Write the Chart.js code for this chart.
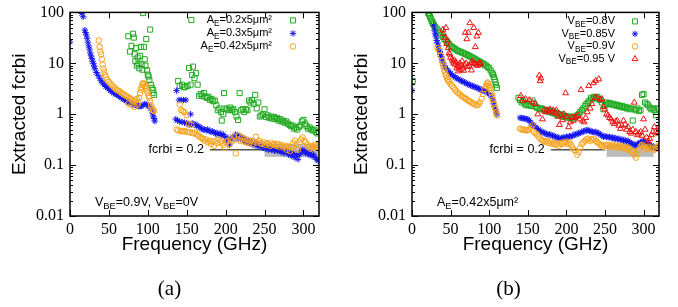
<!DOCTYPE html>
<html>
<head>
<meta charset="utf-8">
<script src="https://cdn.jsdelivr.net/npm/chart.js@4.4.1/dist/chart.umd.min.js"></script>
<style>
  body { margin: 0; background: #fff; width: 678px; height: 307px; overflow: hidden; position: relative; }
  canvas { position: absolute; top: 0; }
</style>
</head>
<body>
<canvas id="chartA" width="339" height="307" style="left:0"></canvas>
<canvas id="chartB" width="339" height="307" style="left:339px"></canvas>
<script>
// axis ticks
const xTicks = [0, 50, 100, 150, 200, 250, 300];
const yTicks = [0.01, 0.1, 1, 10, 100];
const yTickLabels = ['0.01', '0.1', '1', '10', '100'];

// legend labels (_{..} = subscript)
const legendA = ['A_{E}=0.2x5μm²', 'A_{E}=0.3x5μm²', 'A_{E}=0.42x5μm²'];
const legendB = ['V_{BE}=0.8V', 'V_{BE}=0.85V', 'V_{BE}=0.9V', 'V_{BE}=0.95 V'];

// (a) AE = 0.2x5um2
const freqA02 = [75, 77, 79, 81, 82, 83, 84, 85, 86, 87,
  88, 89, 90, 91, 92, 93, 94, 95, 96, 97,
  98, 99, 100, 101, 102, 103, 104, 105, 106, 107, 108,
  139, 141, 144, 146, 148, 151, 153, 155, 156, 157,
  158, 160, 162, 164, 166, 168, 170, 172, 174, 176,
  178, 180, 182, 184, 186, 188, 190, 192, 194, 195,
  197, 198, 200, 202, 204, 206, 208, 210, 212, 214,
  216, 218, 220, 222, 224, 226, 228, 230, 232, 234,
  236, 238, 240, 242, 244, 246, 248, 250, 252, 254,
  256, 258, 260, 262, 264, 266, 268, 270, 272, 274,
  276, 278, 280, 282, 284, 286, 288, 290, 292, 294,
  296, 298, 300, 302, 304, 306, 308, 310, 312, 314,
  316, 318, 320];
const fcrbiA02 = [34, 17, 22, 38, 32, 15, 11, 20, 9, 13,
  9.8, 8, 14, 21, 9.5, 7.5, 97, 21, 12, 9,
  30, 7.3, 6, 5.5, 4.7, 46, 3.8, 3.3, 2.6, 3.0, 2.4,
  4.5, 3.6, 3.8, 3.4, 3.4, 3.6, 8.1, 3.8, 71, 5.9,
  8.6, 5.1, 6.4, 3.8, 2.3, 2.5, 2.3, 2.6, 2.2, 2.1,
  2.2, 1.9, 2.0, 1.8, 1.85, 1.5, 1.2, 1.3, 1.1, 0.75,
  1.0, 2.6, 1.3, 1.25, 1.2, 1.35, 1.2, 1.25, 1.1, 0.9,
  0.77, 2.6, 1.2, 1.25, 1.1, 1.25, 1.2, 1.85, 1.7, 1.9,
  1.6, 2.4, 1.3, 1.7, 0.9, 0.95, 1.0, 1.25, 0.88, 0.95,
  0.85, 0.9, 0.82, 0.88, 0.8, 0.85, 0.75, 0.8, 0.72, 0.75,
  0.68, 0.72, 0.65, 0.62, 0.58, 0.6, 0.52, 0.55, 0.5, 0.56,
  0.6, 0.72, 0.77, 0.65, 0.58, 0.52, 0.55, 0.5, 0.48, 0.5,
  0.45, 0.42, 0.45];

// (a) AE = 0.3x5um2
const freqA03 = [0, 15, 17, 19, 20, 21, 22, 23, 24, 25,
  26, 27, 28, 29, 30, 31, 32, 34, 36, 38,
  40, 42, 44, 46, 48, 50, 52, 54, 56, 58,
  60, 62, 64, 66, 68, 70, 72, 74, 76, 78,
  80, 82, 84, 86, 88, 90, 92, 94, 96, 98,
  100, 102, 104, 105, 106, 107, 108, 109,
  136, 137, 138, 140, 141, 143, 144, 146, 147, 149,
  150, 152, 154, 155, 157, 159, 161, 163, 165, 167,
  169, 171, 173, 175, 177, 179, 181, 183, 185, 187,
  189, 191, 193, 195, 197, 199, 201, 203, 205, 207,
  209, 211, 213, 215, 217, 219, 221, 223, 225, 227,
  229, 231, 233, 235, 237, 239, 241, 243, 245, 247,
  249, 251, 253, 255, 257, 259, 261, 263, 265, 267,
  269, 271, 273, 275, 277, 279, 281, 283, 285, 287,
  289, 291, 293, 295, 297, 299, 301, 303, 305, 307,
  309, 311, 313, 315, 317, 319];
const fcrbiA03 = [26, 95, 82, 45, 40, 36, 31, 26, 22, 19,
  16, 14, 12.5, 11, 9.8, 8.8, 7.8, 6.6, 5.8, 5.1,
  4.5, 4.1, 3.8, 3.5, 3.3, 3.1, 2.9, 2.75, 2.6, 2.5,
  2.4, 2.3, 2.2, 2.1, 2.0, 1.92, 1.85, 1.78, 1.72, 1.66,
  1.6, 1.56, 1.52, 1.48, 1.45, 1.42, 1.45, 1.52, 1.58, 1.55,
  1.5, 1.42, 1.3, 1.2, 1.05, 0.92, 0.82, 0.73,
  0.8, 2.9, 0.75, 1.9, 0.72, 1.9, 0.7, 1.9, 0.68, 1.9,
  0.66, 0.64, 0.62, 1.0, 0.66, 0.64, 0.62, 0.6, 0.58, 0.55,
  0.52, 0.5, 0.5, 0.48, 0.5, 0.47, 0.45, 0.46, 0.44, 0.42,
  0.43, 0.4, 0.42, 0.38, 0.4, 0.36, 0.3, 0.34, 0.25, 0.32,
  0.36, 0.33, 0.4, 0.35, 0.38, 0.33, 0.35, 0.3, 0.32, 0.28,
  0.3, 0.27, 0.29, 0.25, 0.27, 0.24, 0.26, 0.23, 0.25, 0.22,
  0.24, 0.21, 0.22, 0.2, 0.22, 0.2, 0.21, 0.19, 0.2, 0.19,
  0.2, 0.18, 0.19, 0.17, 0.19, 0.18, 0.16, 0.18, 0.15, 0.17,
  0.14, 0.16, 0.13, 0.16, 0.18, 0.2, 0.19, 0.17, 0.18, 0.16,
  0.17, 0.15, 0.16, 0.14, 0.13, 0.12];

// (a) AE = 0.42x5um2
const freqA042 = [37, 38, 39, 40, 41, 42, 43, 44, 45, 46,
  48, 50, 52, 54, 56, 58, 60, 62, 64, 66,
  68, 70, 72, 74, 75, 76, 78, 79, 80, 82,
  83, 84, 86, 87, 88, 89, 90, 91, 92, 93,
  94, 95, 96, 97, 98, 99, 100, 101, 102, 103,
  104, 105, 106, 107, 108,
  137, 139, 141, 142, 143, 144, 145, 146, 147, 148,
  150, 151, 153, 154, 156, 157, 159, 161, 163, 165,
  167, 169, 171, 173, 175, 177, 179, 181, 183, 185,
  187, 189, 191, 193, 195, 197, 199, 201, 203, 205,
  207, 209, 211, 213, 215, 217, 219, 221, 223, 225,
  227, 229, 231, 233, 235, 237, 239, 241, 243, 245,
  247, 249, 251, 253, 255, 257, 259, 261, 263, 265,
  267, 269, 271, 273, 275, 277, 279, 281, 283, 285,
  287, 289, 291, 293, 295, 297, 299, 301, 303, 305,
  307, 309, 311, 313, 315, 317, 319];
const fcrbiA042 = [28, 21, 17, 15, 12, 9.5, 7.8, 6.8, 5.9, 5.3,
  4.7, 4.3, 4.0, 3.7, 3.4, 3.2, 3.0, 2.9, 2.8, 2.6,
  2.5, 2.4, 2.3, 2.2, 1.6, 2.1, 2.0, 1.5, 1.9, 1.8,
  1.4, 1.9, 2.0, 1.55, 1.7, 2.1, 2.6, 3.0, 3.4, 3.8,
  4.1, 3.9, 3.5, 3.2, 3.6, 2.9, 2.6, 2.3, 2.1, 1.8,
  1.5, 1.35, 1.25, 1.2, 1.15,
  0.5, 0.48, 1.55, 0.47, 1.2, 0.46, 1.15, 0.47, 1.1, 0.46,
  0.95, 0.45, 0.65, 0.44, 0.62, 0.43, 0.42, 0.44, 0.4, 0.38,
  0.36, 0.34, 0.33, 0.3, 0.32, 0.28, 0.3, 0.26, 0.29, 0.24,
  0.3, 0.27, 0.32, 0.28, 0.3, 0.25, 0.22, 0.28, 0.3, 0.26,
  0.33, 0.3, 0.36, 0.17, 0.32, 0.38, 0.3, 0.35, 0.29, 0.33,
  0.28, 0.31, 0.27, 0.3, 0.26, 0.29, 0.36, 0.28, 0.3, 0.27,
  0.26, 0.28, 0.25, 0.27, 0.26, 0.24, 0.27, 0.25, 0.26, 0.24,
  0.26, 0.23, 0.25, 0.24, 0.22, 0.24, 0.2, 0.23, 0.19, 0.22,
  0.27, 0.3, 0.26, 0.2, 0.28, 0.32, 0.35, 0.3, 0.28, 0.25,
  0.23, 0.21, 0.24, 0.22, 0.25, 0.23, 0.25];

// (b) VBE = 0.8V
const freqB080 = [1, 21, 22, 23, 24, 25, 26, 27, 28, 30,
  32, 34, 36, 38, 40, 42, 44, 46, 48, 50,
  52, 54, 56, 58, 60, 62, 64, 66, 68, 70,
  72, 74, 76, 78, 80, 82, 84, 86, 88, 90,
  92, 94, 96, 98, 100, 102, 104, 105, 106, 107,
  108, 109, 110,
  138, 140, 142, 144, 146, 148, 150, 152, 154, 156,
  158, 160, 162, 164, 166, 168, 170, 172, 174, 176,
  178, 180, 182, 184, 186, 188, 190, 192, 194, 196,
  198, 200, 202, 204, 206, 208, 210, 212, 214, 216,
  218, 220, 222, 224, 226, 228, 230, 232, 234, 236,
  238, 240, 242, 244, 246, 248, 250, 252, 254, 256,
  258, 260, 262, 264, 266, 268, 270, 272, 274, 276,
  278, 280, 282, 284, 286, 288, 290, 292, 294, 296,
  298, 300, 302, 304, 306, 308, 310, 312, 314, 316,
  318, 320];
const fcrbiB080 = [4.5, 98, 92, 85, 78, 72, 66, 62, 58, 52,
  48, 44, 40, 36, 33, 30, 28, 26, 24, 22,
  21, 20, 19, 18, 17.5, 17, 16.5, 16, 15.5, 15,
  14.5, 14, 13.5, 13, 12.5, 12, 11.5, 11, 10.6, 10.2,
  9.8, 9.4, 9.0, 8.5, 8.0, 7.2, 6.4, 6.0, 5.4, 4.8,
  4.3, 3.8, 3.3,
  2.1, 1.9, 1.7, 1.8, 1.6, 1.5, 1.55, 1.5, 1.45, 1.85,
  1.6, 1.4, 1.35, 1.3, 1.25, 1.3, 1.25, 1.2, 1.15, 1.2,
  1.1, 1.15, 1.05, 1.1, 1.0, 1.05, 0.95, 1.0, 0.9, 0.95,
  0.88, 0.92, 0.85, 0.9, 0.85, 0.82, 0.88, 0.9, 0.95, 1.0,
  1.1, 1.2, 1.3, 1.45, 1.6, 1.7, 1.85, 2.1, 2.0, 2.2,
  2.1, 2.2, 2.0, 1.9, 1.7, 1.25, 1.5, 1.7, 1.6, 1.65,
  1.55, 1.6, 1.5, 1.55, 1.45, 1.5, 1.4, 1.45, 1.35, 1.4,
  1.3, 1.35, 1.25, 1.3, 0.75, 1.25, 1.2, 1.3, 1.15, 1.2,
  2.4, 2.5, 1.7, 1.6, 1.5, 1.35, 1.25, 1.3, 1.2, 0.95,
  1.3, 1.25];

// (b) VBE = 0.85V
const freqB085 = [0, 28, 29, 30, 31, 32, 33, 34, 35, 36,
  37, 38, 39, 40, 42, 44, 46, 48, 50, 52,
  54, 56, 58, 60, 62, 64, 66, 68, 70, 72,
  74, 76, 78, 80, 82, 84, 86, 88, 90, 92,
  94, 96, 98, 100, 102, 104, 105, 106, 107, 108,
  109, 110,
  140, 142, 144, 146, 148, 150, 152, 154, 156, 158,
  160, 162, 164, 166, 168, 170, 172, 174, 176, 178,
  180, 182, 184, 186, 188, 190, 192, 194, 196, 198,
  200, 202, 204, 206, 208, 210, 212, 214, 216, 218,
  220, 222, 224, 226, 228, 230, 232, 234, 236, 238,
  240, 242, 244, 246, 248, 250, 252, 254, 256, 258,
  260, 262, 264, 266, 268, 270, 272, 274, 276, 278,
  280, 282, 284, 286, 288, 290, 292, 294, 296, 298,
  300, 302, 304, 306, 308, 310, 312, 314, 316, 318,
  320];
const fcrbiB085 = [2.9, 55, 45, 38, 33, 28, 25, 22, 19, 17,
  15, 13.5, 12, 10.5, 9, 8, 7.3, 6.8, 6.3, 5.9,
  5.6, 5.3, 5.1, 4.9, 4.7, 4.5, 4.4, 4.2, 4.1, 3.9,
  3.8, 3.7, 3.6, 3.5, 3.4, 3.3, 3.2, 3.1, 3.0, 2.9,
  2.85, 2.75, 2.65, 2.5, 2.3, 2.0, 1.8, 1.6, 1.4, 1.25,
  1.1, 1.0,
  0.85, 0.84, 0.83, 0.82, 0.8, 0.8, 0.75, 0.68, 0.62, 0.6,
  0.56, 0.52, 0.5, 0.47, 0.45, 0.44, 0.42, 0.41, 0.4, 0.4,
  0.39, 0.38, 0.37, 0.36, 0.35, 0.34, 0.33, 0.34, 0.35, 0.34,
  0.36, 0.35, 0.37, 0.36, 0.38, 0.39, 0.4, 0.41, 0.42, 0.43,
  0.45, 0.46, 0.47, 0.48, 0.49, 0.47, 0.46, 0.45, 0.44, 0.45,
  0.43, 0.42, 0.4, 0.38, 0.36, 0.37, 0.36, 0.35, 0.36, 0.34,
  0.35, 0.33, 0.34, 0.32, 0.33, 0.31, 0.32, 0.3, 0.31, 0.29,
  0.3, 0.28, 0.27, 0.26, 0.25, 0.24, 0.26, 0.27, 0.28, 0.29,
  0.3, 0.28, 0.27, 0.26, 0.25, 0.24, 0.23, 0.22, 0.21, 0.22,
  0.21];

// (b) VBE = 0.9V
const freqB090 = [33, 35, 37, 39, 40, 41, 42, 43, 44, 45,
  46, 47, 48, 50, 52, 54, 56, 58, 60, 62,
  64, 66, 68, 70, 72, 74, 76, 78, 80, 82,
  84, 86, 88, 90, 92, 94, 96, 97, 98, 99,
  100, 101, 102, 103, 104, 105, 106, 107, 108, 109,
  110,
  140, 142, 144, 146, 148, 150, 152, 154, 156, 158,
  160, 162, 164, 166, 168, 170, 172, 174, 176, 178,
  180, 182, 184, 186, 188, 190, 192, 194, 196, 198,
  200, 202, 204, 206, 208, 210, 212, 214, 216, 218,
  220, 222, 224, 226, 228, 230, 232, 234, 236, 238,
  240, 242, 244, 246, 248, 250, 252, 254, 256, 258,
  260, 262, 264, 266, 268, 270, 272, 274, 276, 278,
  280, 282, 284, 286, 288, 290, 292, 294, 296, 298,
  300, 302, 304, 306, 308, 310, 312, 314, 316, 318,
  320];
const fcrbiB090 = [20, 18, 14, 11, 9.5, 8.3, 7.3, 6.5, 5.8, 5.3,
  4.9, 4.6, 4.3, 3.9, 3.6, 3.3, 3.0, 2.8, 2.6, 2.45,
  2.3, 2.2, 2.1, 2.0, 1.9, 1.8, 1.75, 1.65, 1.6, 1.55,
  1.5, 1.55, 1.7, 2.0, 2.5, 3.1, 3.6, 4.0, 4.2, 3.8,
  3.5, 3.3, 3.0, 2.6, 2.2, 1.9, 1.6, 1.35, 1.25, 1.1,
  0.95,
  0.52, 0.5, 0.5, 0.49, 0.48, 0.49, 0.5, 0.55, 0.6, 0.45,
  0.42, 0.4, 0.36, 0.33, 0.31, 0.3, 0.29, 0.3, 0.28, 0.27,
  0.29, 0.26, 0.27, 0.25, 0.26, 0.24, 0.27, 0.26, 0.28, 0.27,
  0.29, 0.26, 0.28, 0.25, 0.22, 0.2, 0.19, 0.16, 0.18, 0.22,
  0.26, 0.28, 0.3, 0.32, 0.33, 0.3, 0.32, 0.31, 0.33, 0.3,
  0.28, 0.27, 0.25, 0.24, 0.23, 0.25, 0.24, 0.25, 0.23, 0.24,
  0.25, 0.23, 0.24, 0.22, 0.23, 0.24, 0.22, 0.23, 0.21, 0.22,
  0.2, 0.21, 0.19, 0.18, 0.16, 0.14, 0.17, 0.2, 0.23, 0.25,
  0.24, 0.22, 0.21, 0.23, 0.22, 0.21, 0.22, 0.2, 0.21, 0.23,
  0.24];

// (b) VBE = 0.95V
const freqB095 = [40, 41, 43, 44, 45, 46, 47, 48, 49, 50,
  52, 53, 54, 55, 56, 57, 58, 59, 60, 61,
  62, 63, 64, 65, 66, 67, 68, 69, 70, 71,
  72, 73, 74, 75, 76, 77, 78, 79, 80, 81,
  82, 83, 84, 85, 86, 87, 88, 89,
  141, 143, 147, 152, 156, 160, 163, 165, 166, 167,
  169, 171, 173, 175, 177, 179, 181, 183, 185, 187,
  189, 191, 193, 195, 197, 199, 201, 203, 205, 207,
  209, 211, 213, 215, 217, 219, 221, 223, 225, 227,
  229, 231, 233, 235, 237, 238, 240, 242, 244, 246,
  248, 250, 252, 254, 256, 258, 260, 262, 264, 266,
  268, 270, 272, 274, 276, 278, 280, 282, 284, 286,
  288, 290, 292, 294, 296, 298, 300, 302, 304, 306,
  308, 310, 312, 314, 316, 318, 320];
const fcrbiB095 = [46, 38, 32, 50, 24, 28, 20, 16, 15, 13,
  12, 11, 10, 11.5, 9.5, 10.5, 8, 9, 7, 8.5,
  10, 7.5, 9, 11, 8, 7.2, 9.5, 40, 10, 30,
  8.5, 40, 9, 62, 10, 7.3, 11, 10, 50, 10,
  21, 9.5, 34, 9, 40, 10, 9.5, 10,
  2.3, 1.85, 2.0, 1.9, 1.7, 1.6, 1.0, 5.8, 4.5, 5.1,
  0.8, 1.2, 1.1, 1.2, 1.15, 1.25, 1.1, 1.2, 1.05, 1.2,
  0.9, 0.62, 0.95, 0.77, 1.0, 2.6, 0.9, 0.56, 0.7, 0.88,
  0.75, 0.85, 0.9, 0.95, 0.8, 3.0, 0.75, 0.7, 0.85, 1.1,
  3.6, 1.3, 1.6, 4.1, 2.1, 4.5, 2.1, 4.9, 1.9, 2.0,
  1.4, 1.25, 1.0, 0.95, 0.85, 0.8, 0.7, 0.65, 0.72, 0.75,
  0.6, 0.52, 0.6, 0.75, 0.62, 0.5, 0.56, 0.45, 0.42, 0.5,
  1.7, 0.45, 0.39, 0.42, 0.45, 0.38, 0.8, 0.5, 0.35, 0.29,
  0.33, 0.39, 0.45, 0.56, 0.45, 0.42, 0.56];

// target line and shaded band: [fStart, fEnd, lo, hi]
const targetValue = 0.2;
const targetLine = [180, 250];
const bandA = [250, 320, 0.145, 0.26];
const bandB = [252, 313, 0.145, 0.26];

const GREEN = '#1faa1f', BLUE = '#1414f0', ORANGE = '#f7a21b', RED = '#ee1010';
const SANS = '"Liberation Sans", Arial, sans-serif';
const SERIF = '"Liberation Serif", "Times New Roman", serif';

function pts(fs, vs) {
  return fs.map((f, i) => ({ x: f, y: vs[i] }));
}

function parseRich(s) {
  const parts = [];
  s.split(/(_\{[^}]*\})/).forEach(seg => {
    if (!seg) return;
    if (seg.startsWith('_{')) parts.push({ t: seg.slice(2, -1), sub: true });
    else parts.push({ t: seg, sub: false });
  });
  return parts;
}

function drawRich(ctx, str, x, y, size, align) {
  const parts = parseRich(str);
  const big = size + 'px ' + SANS;
  const small = (size * 0.75) + 'px ' + SANS;
  let w = 0;
  parts.forEach(p => { ctx.font = p.sub ? small : big; w += ctx.measureText(p.t).width; });
  let cx = align === 'right' ? x - w : x;
  ctx.textAlign = 'left';
  ctx.textBaseline = 'middle';
  parts.forEach(p => {
    ctx.font = p.sub ? small : big;
    ctx.fillText(p.t, cx, p.sub ? y + size * 0.3 : y);
    cx += ctx.measureText(p.t).width;
  });
}

function panelPlugin(cfg) {
  return {
    id: 'panel',
    beforeDatasetsDraw(chart) {
      const { ctx, scales: { x, y } } = chart;
      ctx.save();
      // shaded band
      const b = cfg.band;
      const bx0 = x.getPixelForValue(b[0]), bx1 = Math.min(x.getPixelForValue(b[1]), chart.chartArea.right);
      const by0 = y.getPixelForValue(b[3]), by1 = y.getPixelForValue(b[2]);
      ctx.fillStyle = '#bdbdbd';
      ctx.fillRect(bx0, by0, bx1 - bx0, by1 - by0);
      // target line + label
      const ty = y.getPixelForValue(targetValue);
      ctx.strokeStyle = '#555';
      ctx.lineWidth = 1.5;
      ctx.beginPath();
      ctx.moveTo(x.getPixelForValue(targetLine[0]), ty);
      ctx.lineTo(x.getPixelForValue(targetLine[1]), ty);
      ctx.stroke();
      ctx.fillStyle = '#000';
      drawRich(ctx, 'fcrbi = 0.2', x.getPixelForValue(172), ty, 12.5, 'right');
      ctx.restore();
    },
    afterDatasetsDraw(chart) {
      const { ctx, chartArea: a, scales: { x, y } } = chart;
      ctx.save();
      ctx.strokeStyle = '#000';
      ctx.lineWidth = 1;
      ctx.beginPath();
      xTicks.forEach(v => {
        const px = Math.round(x.getPixelForValue(v)) + 0.5;
        ctx.moveTo(px, a.bottom); ctx.lineTo(px, a.bottom - 6);
        ctx.moveTo(px, a.top); ctx.lineTo(px, a.top + 6);
      });
      for (let k = -2; k <= 1; k++) {
        for (let m = 1; m <= 10; m++) {
          const py = Math.round(y.getPixelForValue(m * Math.pow(10, k))) + 0.5;
          const len = (m === 1 || m === 10) ? 6 : 3;
          ctx.moveTo(a.left, py); ctx.lineTo(a.left + len, py);
          ctx.moveTo(a.right, py); ctx.lineTo(a.right - len, py);
        }
      }
      ctx.stroke();
      ctx.lineWidth = 1.5;
      ctx.strokeRect(a.left, a.top, a.right - a.left, a.bottom - a.top);

      // legend
      cfg.legend.forEach((lab, i) => {
        const ly = a.top + cfg.legTop + i * cfg.legRow;
        ctx.fillStyle = '#000';
        drawRich(ctx, lab, a.right - cfg.legText, ly, 11, 'right');
        const ds = chart.data.datasets[i];
        ctx.strokeStyle = ds.borderColor;
        ctx.fillStyle = ds.backgroundColor;
        ctx.lineWidth = ds.borderWidth;
        Chart.helpers.drawPoint(ctx, { pointStyle: ds.pointStyle, radius: ds.pointRadius, borderWidth: ds.borderWidth, rotation: 0 }, a.right - cfg.legMark, ly);
      });

      // note inside plot
      ctx.fillStyle = '#000';
      drawRich(ctx, cfg.note, a.left + 25, a.bottom - 13, 12.5, 'left');

      // axis titles
      ctx.font = '19px ' + SANS;
      ctx.textAlign = 'center';
      ctx.textBaseline = 'middle';
      ctx.fillText('Frequency (GHz)', (a.left + a.right) / 2, 245);
      ctx.save();
      ctx.translate(a.left - 50, (a.top + a.bottom) / 2);
      ctx.rotate(-Math.PI / 2);
      ctx.fillText('Extracted fcrbi', 0, 0);
      ctx.restore();

      // caption
      ctx.font = '21px ' + SERIF;
      ctx.fillText(cfg.caption, chart.width / 2, 289);
      ctx.restore();
    }
  };
}

function makeChart(id, datasets, cfg) {
  return new Chart(document.getElementById(id), {
    type: 'scatter',
    data: { datasets },
    options: {
      responsive: false,
      animation: false,
      devicePixelRatio: 1,
      layout: { padding: { top: 7, right: cfg.padRight, bottom: 0, left: 0 } },
      plugins: { legend: { display: false }, tooltip: { enabled: false } },
      scales: {
        x: {
          type: 'linear', min: 0, max: 320,
          grid: { display: false, drawTicks: false },
          border: { display: false },
          afterBuildTicks: s => { s.ticks = xTicks.map(v => ({ value: v })); },
          afterFit: s => { s.height = 91; },
          ticks: { color: '#000', padding: 4, autoSkip: false, maxRotation: 0,
            font: { family: SERIF, size: 16 }, callback: v => String(v) }
        },
        y: {
          type: 'logarithmic', min: 0.01, max: 100,
          grid: { display: false, drawTicks: false },
          border: { display: false },
          afterBuildTicks: s => { s.ticks = yTicks.map(v => ({ value: v })); },
          afterFit: s => { s.width = cfg.yWidth; },
          ticks: { color: '#000', padding: 6, autoSkip: false,
            font: { family: SERIF, size: 16, lineHeight: 0.8 },
            callback: (v, i) => yTickLabels[i] }
        }
      }
    },
    plugins: [panelPlugin(cfg)]
  });
}

const sq = c => ({ pointStyle: 'rect', pointRadius: 3.6, borderColor: c, backgroundColor: 'rgba(0,0,0,0)', borderWidth: 1 });
const st = c => ({ pointStyle: 'star', pointRadius: 3.2, borderColor: c, backgroundColor: 'rgba(0,0,0,0)', borderWidth: 1 });
const ci = c => ({ pointStyle: 'circle', pointRadius: 2.8, borderColor: c, backgroundColor: 'rgba(0,0,0,0)', borderWidth: 1 });
const tr = c => ({ pointStyle: 'triangle', pointRadius: 3.4, borderColor: c, backgroundColor: 'rgba(0,0,0,0)', borderWidth: 1 });

makeChart('chartA', [
  { label: legendA[0], data: pts(freqA02, fcrbiA02), order: 2, ...sq(GREEN) },
  { label: legendA[1], data: pts(freqA03, fcrbiA03), order: 1, ...st(BLUE) },
  { label: legendA[2], data: pts(freqA042, fcrbiA042), order: 0, ...ci(ORANGE) }
], { padRight: 20, yWidth: 70, band: bandA, legend: legendA, legTop: 8, legRow: 13, legText: 47, legMark: 26,
  note: 'V_{BE}=0.9V, V_{BE}=0V', caption: '(a)' });

makeChart('chartB', [
  { label: legendB[0], data: pts(freqB080, fcrbiB080), order: 3, ...sq(GREEN) },
  { label: legendB[1], data: pts(freqB085, fcrbiB085), order: 2, ...st(BLUE) },
  { label: legendB[2], data: pts(freqB090, fcrbiB090), order: 1, ...ci(ORANGE) },
  { label: legendB[3], data: pts(freqB095, fcrbiB095), order: 0, ...tr(RED) }
], { padRight: 19, yWidth: 73, band: bandB, legend: legendB, legTop: 9, legRow: 12.5, legText: 44, legMark: 24,
  note: 'A_{E}=0.42x5μm²', caption: '(b)' });
</script>
</body>
</html>
